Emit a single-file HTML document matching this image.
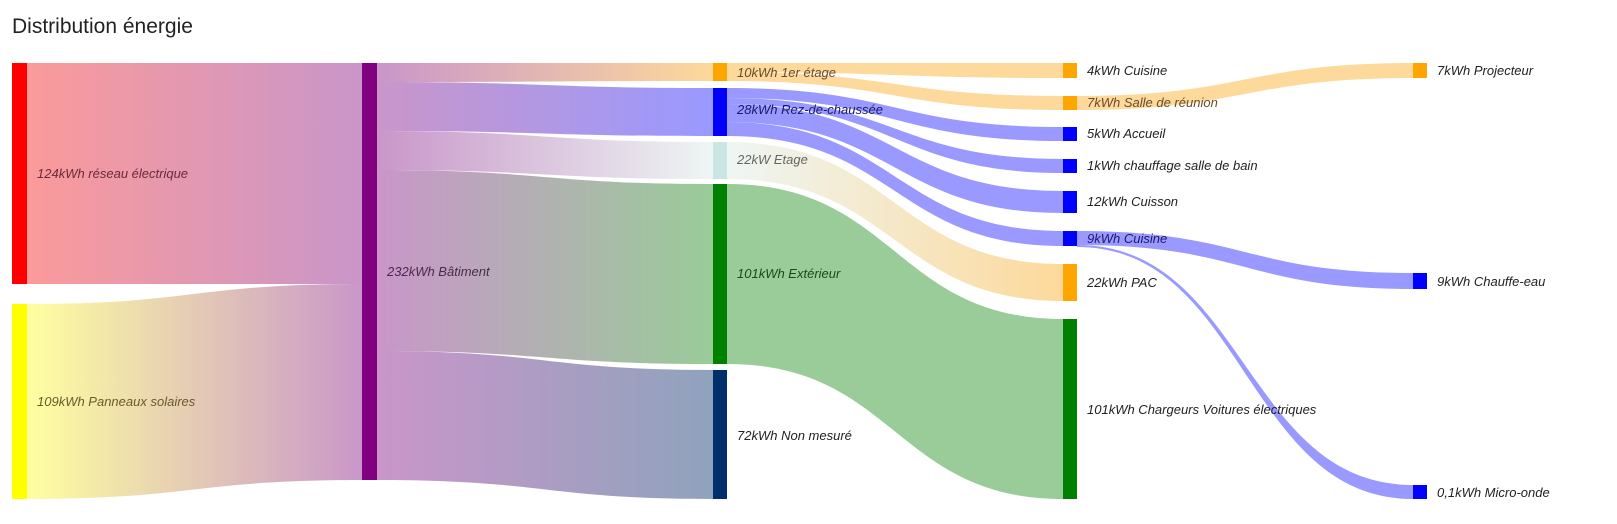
<!DOCTYPE html>
<html><head><meta charset="utf-8"><style>
html,body{margin:0;padding:0;background:#fff;width:1617px;height:524px;overflow:hidden}
svg{display:block}
text{font-family:"Liberation Sans",sans-serif;font-size:13px;font-style:italic;fill:#333}
</style></head><body>
<svg width="1617" height="524" viewBox="0 0 1617 524">
<defs>
<linearGradient id="g1" x1="0" x2="1"><stop offset="0" stop-color="#fb9a9a"/><stop offset="1" stop-color="#c996c9"/></linearGradient>
<linearGradient id="g2" x1="0" x2="1"><stop offset="0" stop-color="#ffffa0"/><stop offset="1" stop-color="#c996c9"/></linearGradient>
<linearGradient id="g3" x1="0" x2="1"><stop offset="0" stop-color="#c996c9"/><stop offset="1" stop-color="#fdd99b"/></linearGradient>
<linearGradient id="g4" x1="0" x2="1"><stop offset="0" stop-color="#c996c9"/><stop offset="1" stop-color="#9999ff"/></linearGradient>
<linearGradient id="g5" x1="0" x2="1"><stop offset="0" stop-color="#c996c9"/><stop offset="1" stop-color="#eef6f4"/></linearGradient>
<linearGradient id="g6" x1="0" x2="1"><stop offset="0" stop-color="#c996c9"/><stop offset="1" stop-color="#99cc99"/></linearGradient>
<linearGradient id="g7" x1="0" x2="1"><stop offset="0" stop-color="#c996c9"/><stop offset="1" stop-color="#8fa3bd"/></linearGradient>
<linearGradient id="g8" x1="0" x2="1"><stop offset="0" stop-color="#eef6f4"/><stop offset="1" stop-color="#fdd99b"/></linearGradient>
</defs>
<text x="12" y="33" style="font-size:21px;font-style:normal;fill:#222">Distribution énergie</text>
<g stroke="none">
<path d="M27 63 C194 63 194 63 362 63 L362 284 C194 284 194 284 27 284 Z" fill="url(#g1)"/>
<path d="M27 304 C194 304 194 284 362 284 L362 480 C194 480 194 499 27 499 Z" fill="url(#g2)"/>
<path d="M377 63 C545 63 545 63 713 63 L713 81 C545 81 545 82 377 82 Z" fill="url(#g3)"/>
<path d="M377 82 C545 82 545 88 713 88 L713 136 C545 136 545 131 377 131 Z" fill="url(#g4)"/>
<path d="M377 131 C545 131 545 142 713 142 L713 179 C545 179 545 170 377 170 Z" fill="url(#g5)"/>
<path d="M377 170 C545 170 545 184 713 184 L713 364 C545 364 545 351 377 351 Z" fill="url(#g6)"/>
<path d="M377 351 C545 351 545 370 713 370 L713 499 C545 499 545 480 377 480 Z" fill="url(#g7)"/>
<path d="M727 142 C895 142 895 264 1063 264 L1063 301 C895 301 895 179 727 179 Z" fill="url(#g8)"/>
<path d="M727 184 C895 184 895 319 1063 319 L1063 499 C895 499 895 364 727 364 Z" fill="#99cc99"/>
<g fill="#fdd99b">
<path d="M727 63 C895 63 895 63 1063 63 L1063 78 C895 78 895 72 727 72 Z"/>
<path d="M727 72 C895 72 895 96 1063 96 L1063 110 C895 110 895 81 727 81 Z"/>
<path d="M1077 96 C1245 96 1245 63 1413 63 L1413 78 C1245 78 1245 110 1077 110 Z"/>
</g>
<g fill="#9999ff">
<path d="M727 88 C895 88 895 127 1063 127 L1063 141 C895 141 895 98 727 98 Z"/>
<path d="M727 98 C895 98 895 159 1063 159 L1063 173 C895 173 895 104 727 104 Z"/>
<path d="M727 104 C895 104 895 191 1063 191 L1063 213 C895 213 895 122 727 122 Z"/>
<path d="M727 122 C895 122 895 231 1063 231 L1063 246 C895 246 895 136 727 136 Z"/>
<path d="M1077 231 C1245 231 1245 273 1413 273 L1413 289 C1245 289 1245 245 1077 245 Z"/>
<path d="M1077 245 C1245 245 1245 485 1413 485 L1413 499 C1245 499 1245 247 1077 247 Z"/>
</g>
</g>
<g>
<rect x="12" y="63" width="15" height="221" fill="#ff0000"/>
<rect x="12" y="304" width="15" height="195" fill="#ffff00"/>
<rect x="362" y="63" width="15" height="417" fill="#800080"/>
<rect x="713" y="63" width="14" height="18" fill="#ffa500"/>
<rect x="713" y="88" width="14" height="48" fill="#0000ff"/>
<rect x="713" y="142" width="14" height="37" fill="#cce6e6"/>
<rect x="713" y="184" width="14" height="180" fill="#008000"/>
<rect x="713" y="370" width="14" height="129" fill="#002f6c"/>
<rect x="1063" y="63" width="14" height="15" fill="#ffa500"/>
<rect x="1063" y="96" width="14" height="14" fill="#ffa500"/>
<rect x="1063" y="127" width="14" height="14" fill="#0000ff"/>
<rect x="1063" y="159" width="14" height="14" fill="#0000ff"/>
<rect x="1063" y="191" width="14" height="22" fill="#0000ff"/>
<rect x="1063" y="231" width="14" height="15" fill="#0000ff"/>
<rect x="1063" y="264" width="14" height="37" fill="#ffa500"/>
<rect x="1063" y="319" width="14" height="180" fill="#008000"/>
<rect x="1413" y="63" width="14" height="15" fill="#ffa500"/>
<rect x="1413" y="273" width="14" height="16" fill="#0000ff"/>
<rect x="1413" y="485" width="14" height="14" fill="#0000ff"/>
</g>
<g>
<text x="37" y="178" style="fill:#6a2a3a">124kWh réseau électrique</text>
<text x="37" y="406" style="fill:#6a5a2a">109kWh Panneaux solaires</text>
<text x="387" y="276" style="fill:#4a2a4a">232kWh Bâtiment</text>
<text x="737" y="77" style="fill:#6a4a2a">10kWh 1er étage</text>
<text x="737" y="114" style="fill:#1a1a6a">28kWh Rez-de-chaussée</text>
<text x="737" y="164" style="fill:#666">22kW Etage</text>
<text x="737" y="278" style="fill:#1a4a1a">101kWh Extérieur</text>
<text x="737" y="440" style="fill:#222">72kWh Non mesuré</text>
<text x="1087" y="75" style="fill:#222">4kWh Cuisine</text>
<text x="1087" y="107" style="fill:#6a4a2a">7kWh Salle de réunion</text>
<text x="1087" y="138" style="fill:#222">5kWh Accueil</text>
<text x="1087" y="170" style="fill:#222">1kWh chauffage salle de bain</text>
<text x="1087" y="206" style="fill:#222">12kWh Cuisson</text>
<text x="1087" y="243" style="fill:#1a1a6a">9kWh Cuisine</text>
<text x="1087" y="287" style="fill:#222">22kWh PAC</text>
<text x="1087" y="414" style="fill:#222">101kWh Chargeurs Voitures électriques</text>
<text x="1437" y="75" style="fill:#222">7kWh Projecteur</text>
<text x="1437" y="286" style="fill:#222">9kWh Chauffe-eau</text>
<text x="1437" y="497" style="fill:#222">0,1kWh Micro-onde</text>
</g>
</svg>
</body></html>
